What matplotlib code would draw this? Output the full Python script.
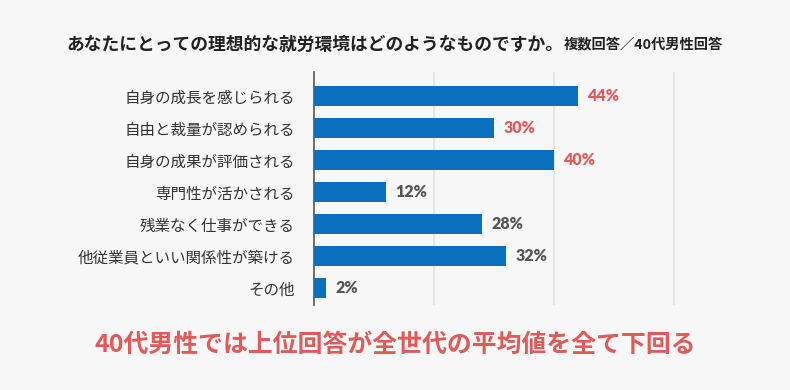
import matplotlib.pyplot as plt

plt.rcParams['font.family'] = ['Noto Sans CJK JP', 'DejaVu Sans']

# ---------- data ----------
categories = [
    "自身の成長を感じられる",
    "自由と裁量が認められる",
    "自身の成果が評価される",
    "専門性が活かされる",
    "残業なく仕事ができる",
    "他従業員といい関係性が築ける",
    "その他",
]
values = [44, 30, 40, 12, 28, 32, 2]
highlight = [True, True, True, False, False, False, False]

title = "あなたにとっての理想的な就労環境はどのようなものですか。"
subtitle = "複数回答／40代男性回答"
footer = "40代男性では上位回答が全世代の平均値を全て下回る"

BG = "#f7f7f7"
BAR = "#0b70bd"
RED = "#e05a5a"
GRAY = "#555555"

fig = plt.figure(figsize=(7.9, 3.9), dpi=100, facecolor=BG)
ax = fig.add_axes([0.3975, 0.218, 0.471, 0.597], facecolor=BG)

y = list(range(len(categories)))
ax.barh(y, values, height=0.62, color=BAR, zorder=3)

for yi, v, hl in zip(y, values, highlight):
    ax.text(v + 1.6, yi, f"{v}%", va="center", ha="left",
            fontsize=11.5, fontweight="heavy",
            color=RED if hl else GRAY,
            family=["Lato", "DejaVu Sans"])

ax.set_xlim(0, 62)
ax.set_ylim(6.53, -0.75)
ax.set_xticks([20, 40, 60])
ax.grid(axis="x", color="#e2e2e2", linewidth=1.2, zorder=0)
ax.tick_params(axis="x", length=0, labelbottom=False)
ax.tick_params(axis="y", length=0, pad=14)
ax.set_yticks(y)
ax.set_yticklabels(categories, fontsize=11.2, color="#333333")

for side in ["top", "right", "bottom"]:
    ax.spines[side].set_visible(False)
ax.spines["left"].set_color("#555555")
ax.spines["left"].set_linewidth(1.2)

fig.text(0.084, 0.885, title, fontsize=12.8, fontweight="bold",
         color="#222222", va="center", ha="left")
fig.text(0.713, 0.885, subtitle, fontsize=10.3, fontweight="bold",
         color="#222222", va="center", ha="left")
fig.text(0.5, 0.115, footer, fontsize=17.9, fontweight="bold",
         color=RED, va="center", ha="center")

fig.savefig("out.png", dpi=100, facecolor=BG)
